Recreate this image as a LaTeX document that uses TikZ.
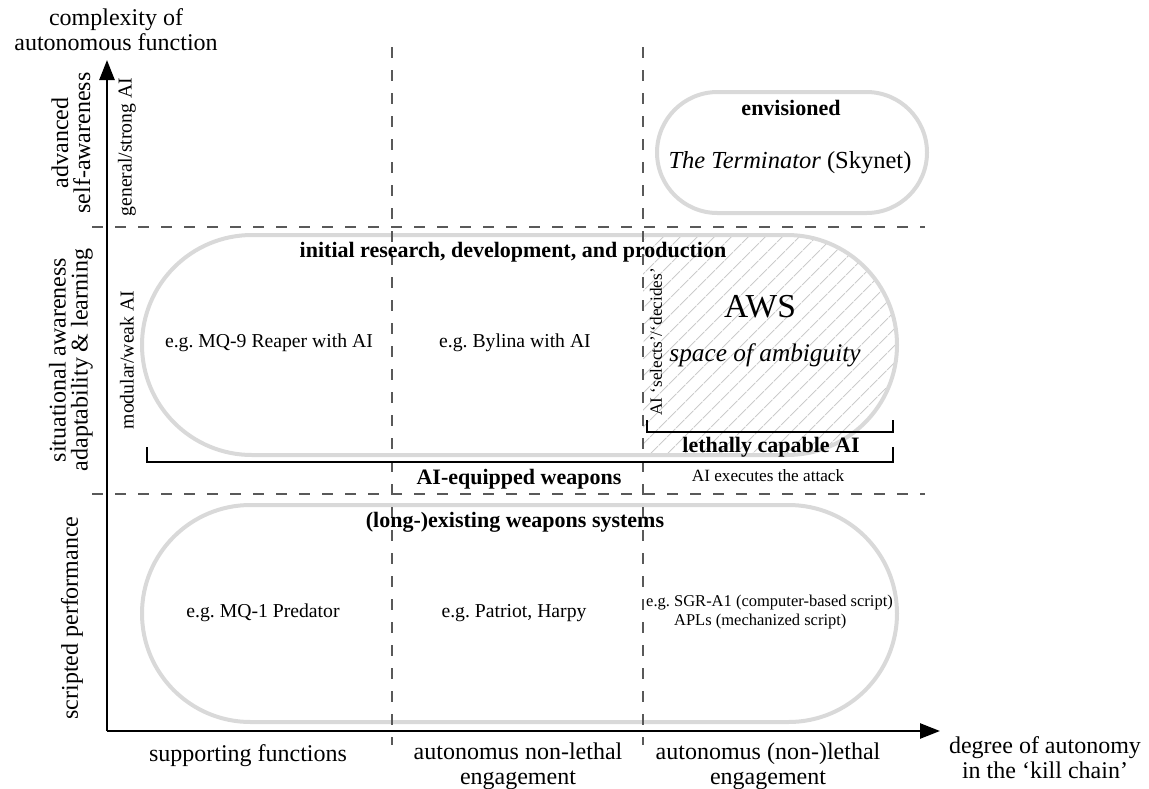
\documentclass[tikz,border=0pt]{standalone}
\usepackage{fontspec}
\setmainfont{Liberation Serif}
\usetikzlibrary{arrows.meta,patterns.meta}
\frenchspacing
\begin{document}
\begin{tikzpicture}[x=1pt,y=-1pt,
  axisline/.style={line width=2.5pt,-{Triangle[length=20pt,width=15pt]}},
  grid/.style={draw=black!65,line width=1.3pt,dash pattern=on 11pt off 12pt},
  gbox/.style={draw=black!15,line width=4pt,inner sep=0pt},
  bracket/.style={line width=2pt},
  axl/.style={font=\fontsize{24}{25}\selectfont,align=center,inner sep=0pt},
  rotl/.style={font=\fontsize{24}{22}\selectfont,align=center,inner sep=0pt,rotate=90},
  rots/.style={font=\fontsize{19.7}{22}\selectfont,inner sep=0pt,rotate=90},
  txt/.style={font=\fontsize{19.7}{22}\selectfont,inner sep=0pt},
  sml/.style={font=\fontsize{16.5}{19}\selectfont,inner sep=0pt},
  hdr/.style={font=\bfseries\fontsize{22}{24}\selectfont,inner sep=0pt}]
\useasboundingbox (0,0) rectangle (1149,788);

% hatched space of ambiguity
\begin{scope}
  \clip (643,0) rectangle (1000,788);
  \fill[pattern={Lines[angle=45,distance=13pt,line width=1.2pt]},pattern color=black!20,rounded corners=110pt]
    (142,235) rectangle (897,455);
\end{scope}

% rounded boxes
\node[gbox,minimum width=270pt,minimum height=121pt,rounded corners=60.5pt] (envbox) at (792,152.5) {};
\node[gbox,minimum width=755pt,minimum height=220pt,rounded corners=110pt] (midbox) at (519.5,345) {};
\node[gbox,minimum width=755pt,minimum height=217pt,rounded corners=108.5pt] (lowbox) at (519.5,613.5) {};

% grid
\coordinate (v1t) at (392,47); \coordinate (v1b) at (392,745);
\coordinate (v2t) at (643,47); \coordinate (v2b) at (643,745);
\coordinate (h1l) at (92,227); \coordinate (h1r) at (925,227);
\coordinate (h2l) at (92,494); \coordinate (h2r) at (925,494);
\draw[grid] (v1t) -- (v1b);
\draw[grid] (v2t) -- (v2b);
\draw[grid] (h1l) -- (h1r);
\draw[grid] (h2l) -- (h2r);

% axes
\coordinate (O) at (107,731);
\coordinate (ytip) at (107,60);
\coordinate (xtip) at (940,731);
\draw[axisline] (O) -- (ytip);
\draw[axisline] (O) -- (xtip);

% brackets
\coordinate (lb1) at (647,420); \coordinate (lb2) at (893,432); \coordinate (lb3) at (893,420);
\draw[bracket] (lb1) |- (lb2) -- (lb3);
\coordinate (ab1) at (147,447); \coordinate (ab2) at (893,462); \coordinate (ab3) at (893,447);
\draw[bracket] (ab1) |- (ab2) -- (ab3);

% axis titles
\node[axl] (ytitle) at (116,30) {complexity of\\autonomous function};
\node[axl] (xtitle) at (1045,758) {degree of autonomy\\in the ‘kill chain’};

% y-axis categories
\node[rotl] (yc1) at (71,143) {advanced\\self-awareness};
\node[rotl] (yc2) at (71,360) {situational awareness\\adaptability \& learning};
\node[rotl] (yc3) at (72,618) {scripted performance};
\node[rots] (ys1) at (127,147) {general/strong AI};
\node[rots] (ys2) at (127,360) {modular/weak AI};

% x-axis categories
\node[axl] (xc1) at (248,756) {supporting functions};
\node[axl] (xc2) at (518,766) {autonomus non-lethal\\engagement};
\node[axl] (xc3) at (768,766) {autonomus (non-)lethal\\engagement};

% envisioned
\node[hdr,anchor=base] (env) at (791,115) {envisioned};
\node[font=\fontsize{24.5}{26}\selectfont,inner sep=0pt,anchor=base] (term) at (790,168) {\textit{The Terminator} (Skynet)};

% initial research
\node[hdr,anchor=base] (irdp) at (513,257) {initial research, development, and production};
\node[txt,anchor=base] (mq9) at (269,347) {e.g. MQ-9 Reaper with AI};
\node[txt,anchor=base] (byl) at (515,347) {e.g. Bylina with AI};
\node[font=\fontsize{33.5}{36}\selectfont,inner sep=0pt,anchor=base] (aws) at (760,317) {AWS};
\node[font=\itshape\fontsize{25.3}{27}\selectfont,inner sep=0pt,anchor=base] (amb) at (765,361) {space of ambiguity};
\node[font=\fontsize{17.2}{20}\selectfont,inner sep=0pt,rotate=90] (sel) at (656,342) {AI ‘selects’/‘decides’};
\node[hdr,anchor=base] (lca) at (771,452) {lethally capable AI};
\node[hdr,anchor=base] (aiw) at (519,484) {AI-equipped weapons};
\node[font=\fontsize{17.2}{20}\selectfont,inner sep=0pt,anchor=base] (exe) at (768,481) {AI executes the attack};

% existing systems
\node[hdr,anchor=base] (exist) at (515,527) {(long-)existing weapons systems};
\node[txt,anchor=base] (mq1) at (263,617) {e.g. MQ-1 Predator};
\node[txt,anchor=base] (pat) at (514,617) {e.g. Patriot, Harpy};
\node[sml,align=left,anchor=west] (sgr) at (646,612) {e.g. SGR-A1 (computer-based script)\\\phantom{e.g. }APLs (mechanized script)};
\end{tikzpicture}
\end{document}
